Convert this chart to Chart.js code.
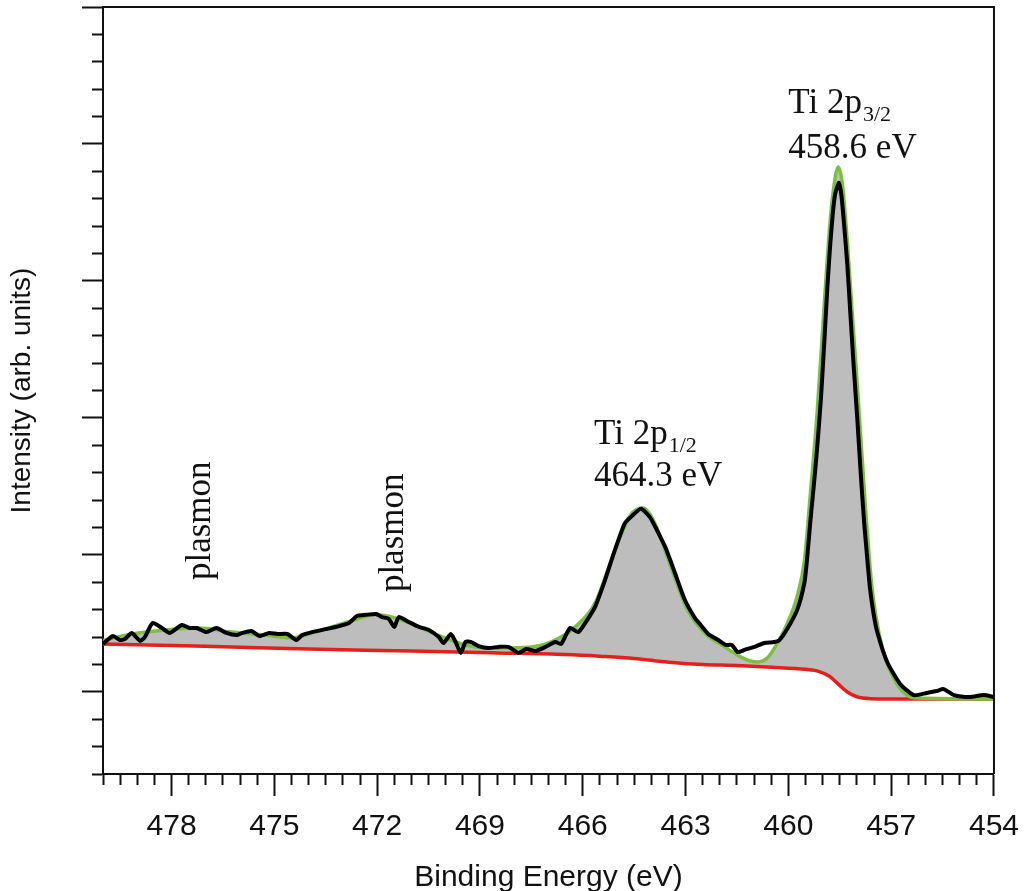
<!DOCTYPE html>
<html>
<head>
<meta charset="utf-8">
<script src="https://cdn.jsdelivr.net/npm/chart.js@4.4.0/dist/chart.umd.min.js"></script>
<style>
  html, body { margin: 0; padding: 0; background: #fff; }
</style>
</head>
<body>
<canvas id="chart" width="1032" height="891"></canvas>
<script>
// Ti 2p XPS spectrum, binding energy (eV) vs intensity (arb. units)

// measured spectrum
const dataEnergy = [
  480.00, 479.71, 479.51, 479.36, 479.16, 478.92, 478.78, 478.55, 478.28, 478.05,
  477.70, 477.47, 477.27, 476.98, 476.69, 476.40, 476.10, 475.93, 475.67, 475.44,
  475.15, 474.91, 474.62, 474.36, 474.19, 473.90, 473.49, 473.11, 472.82, 472.59,
  472.33, 472.03, 471.86, 471.66, 471.50, 471.37, 471.08, 470.78, 470.49, 470.20,
  470.06, 469.85, 469.71, 469.56, 469.42, 469.27, 469.04, 468.75, 468.46, 468.17,
  467.88, 467.65, 467.38, 467.09, 466.80, 466.63, 466.37, 466.13, 465.93, 465.64,
  465.35, 465.06, 464.77, 464.53, 464.30, 464.04, 463.81, 463.58, 463.31, 463.02,
  462.73, 462.56, 462.33, 462.06, 461.83, 461.65, 461.48, 461.28, 460.99, 460.70,
  460.41, 460.26, 460.03, 459.74, 459.53, 459.45, 459.36, 459.26, 459.16, 459.05,
  458.95, 458.86, 458.78, 458.70, 458.63, 458.52, 458.45, 458.37, 458.28, 458.20,
  458.10, 457.99, 457.89, 457.79, 457.70, 457.62, 457.52, 457.41, 457.12, 456.74,
  456.34, 455.96, 455.67, 455.47, 455.17, 454.71, 454.30, 454.00
];
const dataIntensity = [
  4.75, 5.04, 4.89, 4.93, 5.15, 4.86, 5.00, 5.51, 5.33, 5.15,
  5.44, 5.33, 5.33, 5.18, 5.33, 5.15, 5.07, 5.15, 5.22, 5.04,
  5.15, 5.11, 5.11, 4.89, 5.07, 5.18, 5.29, 5.40, 5.51, 5.77,
  5.81, 5.84, 5.73, 5.66, 5.37, 5.73, 5.55, 5.37, 5.26, 5.00,
  4.78, 5.11, 4.82, 4.42, 4.82, 4.82, 4.67, 4.60, 4.64, 4.64,
  4.42, 4.56, 4.49, 4.64, 4.82, 4.75, 5.33, 5.18, 5.51, 6.10,
  7.08, 8.18, 9.16, 9.46, 9.68, 9.38, 8.84, 8.25, 7.34, 6.35,
  5.70, 5.44, 5.10, 4.90, 4.71, 4.71, 4.45, 4.53, 4.64, 4.78,
  4.82, 4.89, 5.30, 6.00, 7.00, 7.90, 9.20, 10.50, 11.90, 13.70,
  15.80, 17.80, 19.30, 20.50, 21.20, 21.58, 21.10, 20.00, 18.60, 17.00,
  15.00, 13.00, 11.00, 9.20, 7.90, 6.80, 5.90, 5.20, 4.10, 3.29,
  2.88, 2.96, 3.03, 3.10, 2.88, 2.81, 2.88, 2.81
];

// fitted envelope
const fitEnergy = [
  480.00, 479.16, 478.17, 477.21, 476.25, 475.26, 474.51, 473.81, 472.85, 472.06,
  471.48, 470.43, 469.71, 469.13, 468.46, 467.50, 466.80, 466.22, 465.64, 465.06,
  464.60, 464.25, 463.90, 463.43, 462.94, 462.44, 461.86, 461.48, 461.19, 460.90,
  460.61, 460.32, 460.03, 459.74, 459.53, 459.36, 459.16, 458.95, 458.78, 458.63,
  458.55, 458.43, 458.29, 458.14, 457.94, 457.76, 457.56, 457.35, 457.12, 456.83,
  456.54, 456.25, 454.00
];
const fitIntensity = [
  4.87, 5.11, 5.26, 5.33, 5.18, 5.07, 4.97, 5.18, 5.55, 5.81,
  5.70, 5.18, 4.82, 4.64, 4.60, 4.64, 4.89, 5.37, 6.24, 8.18,
  9.46, 9.71, 9.16, 7.56, 5.99, 5.15, 4.64, 4.34, 4.16, 4.09,
  4.24, 4.78, 5.50, 6.50, 7.80, 10.20, 13.20, 17.20, 20.20, 21.80,
  22.16, 21.60, 19.60, 16.90, 13.30, 9.90, 6.80, 5.10, 4.05, 3.28,
  2.88, 2.77, 2.74
];

// Shirley background
const bgEnergy = [
  480.00, 477.00, 474.00, 471.00, 468.50, 466.50, 465.50, 464.50, 463.50, 462.50,
  461.50, 460.50, 459.50, 459.10, 458.80, 458.55, 458.30, 458.00, 457.60, 457.00,
  454.00
];
const bgIntensity = [
  4.75, 4.66, 4.56, 4.49, 4.42, 4.36, 4.30, 4.22, 4.08, 4.00,
  3.96, 3.90, 3.82, 3.74, 3.57, 3.29, 3.01, 2.82, 2.75, 2.74,
  2.74
];

const isMajorX = v => Math.abs((v - 454) % 3) < 1e-6;
const isMajorY = v => Math.abs((v - 3) % 5) < 1e-6;

const toPoints = (xs, ys) => xs.map((x, i) => ({ x: x, y: ys[i] }));

const SERIF = "'Liberation Serif', 'Times New Roman', serif";
const SANS = "'Liberation Sans', Arial, sans-serif";

// box round the plot area
const framePlugin = {
  id: 'frame',
  afterDraw(chart) {
    const { ctx, chartArea: a } = chart;
    ctx.save();
    ctx.strokeStyle = '#111';
    ctx.lineWidth = 2;
    ctx.beginPath();
    ctx.moveTo(a.left, a.top);
    ctx.lineTo(a.right, a.top);
    ctx.lineTo(a.right, a.bottom);
    ctx.stroke();
    ctx.restore();
  }
};

// peak annotations, placed in data units
const labelPlugin = {
  id: 'peakLabels',
  afterDatasetsDraw(chart) {
    const { ctx, scales: { x, y } } = chart;
    ctx.save();
    ctx.fillStyle = '#111';
    ctx.textBaseline = 'alphabetic';
    ctx.textAlign = 'left';

    const peak = (ex, ey, sub, energy, gap) => {
      const px = x.getPixelForValue(ex);
      const py = y.getPixelForValue(ey);
      ctx.font = '35px ' + SERIF;
      ctx.fillText('Ti 2p', px, py);
      const w = ctx.measureText('Ti 2p').width;
      ctx.font = '22px ' + SERIF;
      ctx.fillText(sub, px + w + 1, py + 8);
      ctx.font = '35px ' + SERIF;
      ctx.fillText(energy, px, py + gap);
    };
    peak(460.0, 24.13, '3/2', '458.6 eV', 45);
    peak(465.67, 12.05, '1/2', '464.3 eV', 42);

    const plasmon = (ex, ey) => {
      ctx.save();
      ctx.translate(x.getPixelForValue(ex), y.getPixelForValue(ey));
      ctx.rotate(-Math.PI / 2);
      ctx.font = '35px ' + SERIF;
      ctx.fillText('plasmon', 0, 0);
      ctx.restore();
    };
    plasmon(476.88, 7.08);
    plasmon(471.24, 6.64);
    ctx.restore();
  }
};

new Chart(document.getElementById('chart'), {
  type: 'line',
  data: {
    datasets: [
      {
        label: 'Measured',
        data: toPoints(dataEnergy, dataIntensity),
        borderColor: '#000',
        borderWidth: 4,
        pointRadius: 0,
        tension: 0.2,
        fill: false
      },
      {
        label: 'Fit',
        data: toPoints(fitEnergy, fitIntensity),
        borderColor: '#7cbf42',
        borderWidth: 3.5,
        pointRadius: 0,
        cubicInterpolationMode: 'monotone',
        fill: '+1',
        backgroundColor: '#bdbdbd'
      },
      {
        label: 'Background',
        data: toPoints(bgEnergy, bgIntensity),
        borderColor: '#e3201c',
        borderWidth: 3.5,
        pointRadius: 0,
        cubicInterpolationMode: 'monotone',
        fill: false
      }
    ]
  },
  options: {
    responsive: false,
    animation: false,
    layout: { padding: { top: 7, right: 35, left: 0, bottom: 0 } },
    plugins: {
      legend: { display: false },
      tooltip: { enabled: false },
      filler: { drawTime: 'beforeDatasetsDraw' }
    },
    scales: {
      x: {
        type: 'linear',
        reverse: true,
        min: 454,
        max: 480,
        afterFit: s => { s.height = 117; },
        border: { color: '#111', width: 2 },
        grid: {
          drawOnChartArea: false,
          tickLength: 22,
          tickWidth: 2,
          tickColor: '#111',
          tickBorderDash: c => (c.tick && !isMajorX(c.tick.value)) ? [10, 100] : []
        },
        ticks: {
          stepSize: 0.5,
          maxTicksLimit: 1000,
          autoSkip: false,
          maxRotation: 0,
          padding: 13,
          color: '#111',
          font: { family: SANS, size: 30 },
          callback: v => isMajorX(v) ? String(v) : ''
        },
        title: {
          display: true,
          text: 'Binding Energy (eV)',
          color: '#111',
          font: { family: SANS, size: 30, lineHeight: 0.9 },
          padding: { top: 0, bottom: 0 }
        }
      },
      y: {
        type: 'linear',
        min: 0,
        max: 28,
        afterFit: s => { s.width = 103; },
        border: { color: '#111', width: 2 },
        grid: {
          drawOnChartArea: false,
          tickLength: 21,
          tickWidth: 2,
          tickColor: '#111',
          tickBorderDash: c => (c.tick && !isMajorY(c.tick.value)) ? [0, 10, 11, 100] : []
        },
        ticks: {
          stepSize: 1,
          maxTicksLimit: 1000,
          autoSkip: false,
          display: false
        },
        title: {
          display: true,
          text: 'Intensity (arb. units)',
          color: '#111',
          font: { family: SANS, size: 28 },
          padding: { top: 5, bottom: 0 }
        }
      }
    }
  },
  plugins: [framePlugin, labelPlugin]
});
</script>
</body>
</html>
